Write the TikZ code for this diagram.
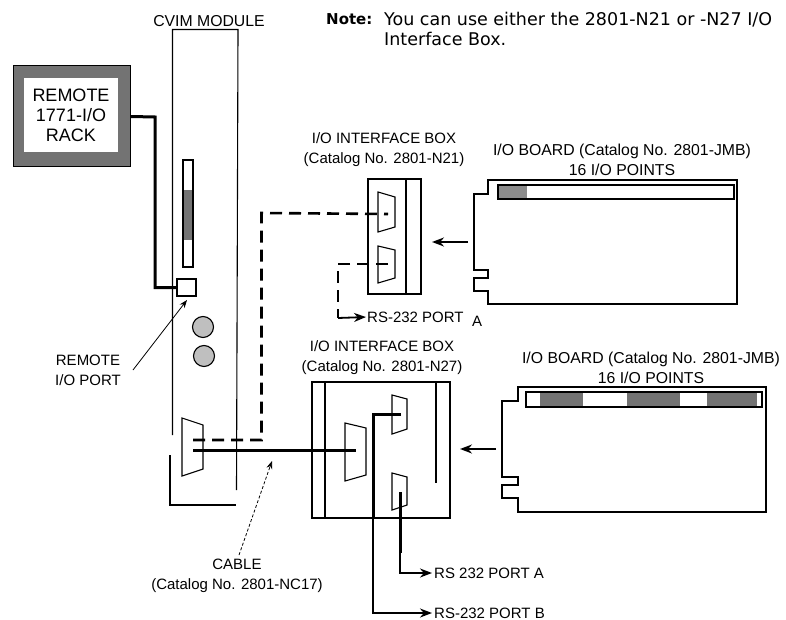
\documentclass[tikz,border=0pt]{standalone}
\usepackage{fontspec}
\setmainfont{Liberation Sans}
\newfontfamily\notefont{DejaVu Sans}
\usetikzlibrary{arrows.meta,positioning,calc}

\begin{document}
\begin{tikzpicture}[x=1pt, y=-1pt, >={Stealth[length=12pt,width=9pt]},
  part/.style={draw, line width=1.1pt, inner sep=0pt},
  dsub/.style={draw, line width=1.1pt, fill=white},
  wire/.style={draw, line width=3pt},
  thinwire/.style={draw, line width=1.8pt},
  dashwire/.style={draw, line width=2.6pt, dash pattern=on 12pt off 7pt},
  lead/.style={draw, line width=.8pt, >={Stealth[length=8pt,width=6pt]}},
  lbl/.style={inner sep=0pt, font=\fontsize{15}{20}\selectfont, align=center},
  biglbl/.style={lbl, font=\fontsize{15.8}{20}\selectfont},
  notelbl/.style={lbl, font=\notefont\fontsize{17.5}{20}\selectfont}]
\useasboundingbox (0,0) rectangle (786,620);
% module
\draw[part] (172.5,435) -- (172.5,29.5) -- (238,29.5) -- (236.5,490);
\draw[part] (170,455) -- (170,505) -- (236,505);
\node[biglbl] (cvim) at (209,21) {CVIM MODULE};
\node[part, minimum width=10pt, minimum height=107pt] (slot) at (188,213.5) {};
\fill[black!55] (184,190) rectangle (192,240);
\node[part, minimum width=19pt, minimum height=17pt] (port) at (186.5,287.5) {};
\node[part, circle, fill=black!25, minimum size=21pt] (ledA) at (203,327) {};
\node[part, circle, fill=black!25, minimum size=21pt] (ledB) at (204,356) {};
\draw[dsub] (182,418) -- (203,425) -- (203,469) -- (182,476) -- cycle;
% rack
\node[draw, line width=1pt, fill=black!55, inner sep=0pt, minimum width=117pt, minimum height=101pt] (rack) at (71.5,116.5) {};
\node[lbl, font=\fontsize{18}{20}\selectfont, fill=white, minimum width=94pt, minimum height=74pt] (rackface) at (71,115) {REMOTE\\1771-I/O\\RACK};
\coordinate (rackdrop) at (155,117);
\draw[wire] (rack.east) -- (rackdrop) |- (port.west);
\node[lbl] (portlbl) at (88,370) {REMOTE\\I/O PORT};
\coordinate (portlead) at (133,370);
\coordinate (porttip) at (187,300);
\draw[lead, ->] (portlead) -- (porttip);
% box N21
\node[part, minimum width=53pt, minimum height=115pt] (boxA) at (394.5,236.5) {};
\node[lbl] (boxAlbl) at (384,150) {I/O INTERFACE BOX\\(Catalog No. 2801-N21)};
\draw[part] (406,179) -- (406,294);
\draw[dsub] (378,192) -- (395,197) -- (395,227) -- (378,232) -- cycle;
\draw[dsub] (378,246) -- (395,250) -- (395,278) -- (378,283) -- cycle;
\coordinate (boxAin) at (388,214);
\coordinate (boxAout) at (388,264);
\coordinate (boxAturn) at (338,318);
\node[lbl, anchor=west] (portAlbl) at (367,317) {RS-232 PORT};
\node[lbl, anchor=west] (portAtag) at (472,321) {A};
\draw[dashwire] (boxAout) -| (boxAturn);
\draw[thinwire, shorten >=1pt, ->] (boxAturn) -- (portAlbl.west);
% board N21
\draw[part] (488,180) -- (737,180) -- (737,304) -- (488,304) -- (488,291) -- (474,291) -- (474,278) -- (488,278) -- (488,270) -- (474,270) -- (474,194) -- (488,194) -- cycle;
\node[part, minimum width=236pt, minimum height=14pt] (stripA) at (616,192) {};
\fill[black!45] (499,186) rectangle (527,198);
\node[biglbl] (boardAlbl) at (622,160) {I/O BOARD (Catalog No. 2801-JMB)\\16 I/O POINTS};
\coordinate (boardAout) at (468,242);
\coordinate (boardAin) at (432,242);
\draw[thinwire, ->] (boardAout) -- (boardAin);
% box N27
\node[part, minimum width=138pt, minimum height=136pt] (boxB) at (381,450) {};
\node[lbl] (boxBlbl) at (382,358) {I/O INTERFACE BOX\\(Catalog No. 2801-N27)};
\draw[part] (325,382) -- (325,518);
\draw[part] (436,382) -- (436,483);
\draw[dsub] (345,423) -- (366,428) -- (366,475) -- (345,481) -- cycle;
\draw[dsub] (392,395) -- (407,399) -- (407,429) -- (392,434) -- cycle;
\draw[dsub] (392,473) -- (407,477) -- (407,505) -- (392,510) -- cycle;
\coordinate (boxBtop) at (401,414);
\coordinate (boxBbot) at (400,492);
\coordinate (topturn) at (373,518);
\coordinate (botturn) at (400,553);
\node[lbl, anchor=west] (portBlbl) at (434,573) {RS 232 PORT A};
\node[lbl, anchor=west] (portClbl) at (434,613) {RS-232 PORT B};
\draw[wire] (boxBtop) -| (topturn);
\draw[thinwire, shorten >=2pt, ->] (topturn) |- (portClbl.west);
\draw[wire] (boxBbot) -- (botturn);
\draw[thinwire, shorten >=2pt, ->] (botturn) |- (portBlbl.west);
% board N27
\draw[part] (518,387) -- (766,387) -- (766,512) -- (518,512) -- (518,498) -- (502,498) -- (502,485) -- (518,485) -- (518,477) -- (502,477) -- (502,401) -- (518,401) -- cycle;
\node[part, minimum width=236pt, minimum height=15pt] (stripB) at (644,399.5) {};
\foreach \xa/\xb in {540/583, 627/680, 707/757} \fill[black!55] (\xa,393) rectangle (\xb,406);
\node[biglbl] (boardBlbl) at (651,367.5) {I/O BOARD (Catalog No. 2801-JMB)\\16 I/O POINTS};
\coordinate (boardBout) at (496,449);
\coordinate (boardBin) at (460,449);
\draw[thinwire, ->] (boardBout) -- (boardBin);
% cable
\coordinate (cvimA) at (193,440);
\coordinate (cvimB) at (193,450);
\coordinate (boxBin) at (356,450);
\coordinate (dashup) at (261.5,213);
\draw[dashwire] (cvimA) -| (dashup) -- (boxAin);
\draw[wire] (cvimB) -- (boxBin);
\node[lbl] (cablelbl) at (237,576) {CABLE\\(Catalog No. 2801-NC17)};
\coordinate (cablelead) at (239,555);
\coordinate (cabletip) at (272,461);
\draw[lead, densely dashed, ->] (cablelead) -- (cabletip);
% note
\node[notelbl, anchor=west, font=\notefont\bfseries\fontsize{15}{20}\selectfont] (notehead) at (326,19) {Note:};
\node[notelbl, anchor=west, align=left] (notetext) at (384,29) {You can use either the 2801-N21 or -N27 I/O\\Interface Box.};
\end{tikzpicture}
\end{document}
